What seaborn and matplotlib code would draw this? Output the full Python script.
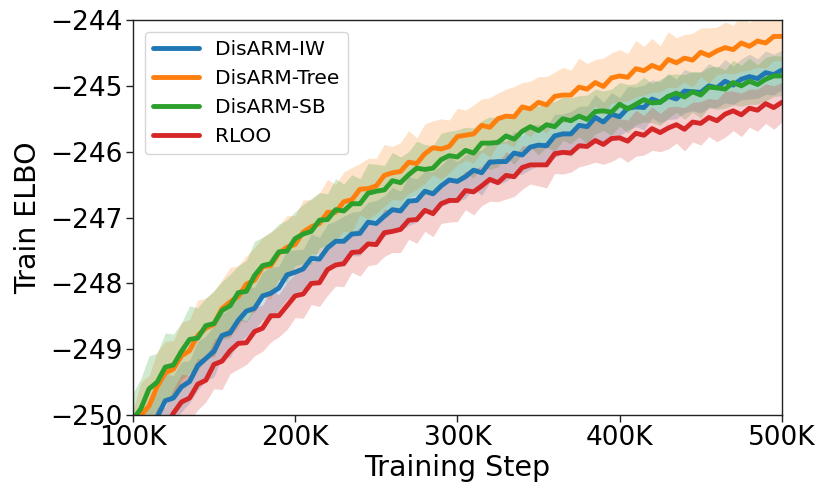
import numpy as np
import pandas as pd
import matplotlib
matplotlib.use("Agg")
import matplotlib.pyplot as plt
import seaborn as sns

steps = np.arange(100_000, 500_001, 5_000)

disarm_iw = [
    -250.56, -250.41, -250.15, -250.03, -249.78, -249.74, -249.57, -249.49, -249.25, -249.14,
    -249.03, -248.79, -248.75, -248.56, -248.42, -248.38, -248.19, -248.15, -248.07, -247.87,
    -247.83, -247.78, -247.62, -247.63, -247.46, -247.36, -247.36, -247.25, -247.24, -247.07,
    -247.09, -246.98, -246.88, -246.90, -246.75, -246.74, -246.60, -246.64, -246.52, -246.43,
    -246.45, -246.38, -246.28, -246.32, -246.16, -246.15, -246.15, -246.02, -246.05, -245.93,
    -245.90, -245.91, -245.76, -245.73, -245.73, -245.60, -245.62, -245.48, -245.55, -245.43,
    -245.47, -245.34, -245.32, -245.33, -245.20, -245.25, -245.16, -245.20, -245.08, -245.09,
    -245.10, -245.00, -245.03, -244.93, -244.99, -244.90, -244.86, -244.89, -244.80, -244.83,
    -244.76]
disarm_tree = [
    -250.37, -250.00, -249.86, -249.57, -249.36, -249.30, -249.10, -249.02, -248.79, -248.68,
    -248.62, -248.38, -248.28, -248.20, -248.01, -247.95, -247.75, -247.73, -247.54, -247.45,
    -247.41, -247.22, -247.14, -247.09, -246.92, -246.92, -246.76, -246.73, -246.57, -246.56,
    -246.52, -246.36, -246.32, -246.30, -246.16, -246.18, -246.03, -245.94, -245.96, -245.92,
    -245.77, -245.75, -245.73, -245.60, -245.63, -245.50, -245.46, -245.47, -245.32, -245.35,
    -245.25, -245.29, -245.16, -245.14, -245.14, -245.02, -245.05, -244.95, -245.01, -244.88,
    -244.85, -244.87, -244.74, -244.77, -244.69, -244.74, -244.60, -244.65, -244.58, -244.61,
    -244.49, -244.54, -244.47, -244.42, -244.45, -244.35, -244.40, -244.32, -244.35, -244.25,
    -244.25]
disarm_sb = [
    -250.07, -249.90, -249.60, -249.50, -249.27, -249.24, -249.03, -248.85, -248.83, -248.64,
    -248.61, -248.41, -248.34, -248.14, -248.12, -247.88, -247.73, -247.70, -247.52, -247.51,
    -247.32, -247.25, -247.21, -247.04, -247.03, -246.88, -246.90, -246.79, -246.79, -246.63,
    -246.60, -246.58, -246.44, -246.47, -246.35, -246.25, -246.27, -246.25, -246.12, -246.06,
    -246.08, -245.98, -246.02, -245.87, -245.87, -245.86, -245.76, -245.81, -245.69, -245.62,
    -245.68, -245.59, -245.62, -245.50, -245.53, -245.46, -245.51, -245.39, -245.38, -245.40,
    -245.28, -245.35, -245.28, -245.21, -245.26, -245.25, -245.16, -245.11, -245.17, -245.09,
    -245.14, -245.02, -245.03, -245.05, -244.95, -245.00, -244.93, -244.98, -244.90, -244.85,
    -244.85]
rloo = [
    -250.93, -250.65, -250.52, -250.28, -250.21, -249.97, -249.80, -249.74, -249.53, -249.47,
    -249.23, -249.18, -249.02, -248.91, -248.90, -248.73, -248.68, -248.49, -248.49, -248.34,
    -248.19, -248.16, -248.00, -247.99, -247.79, -247.72, -247.70, -247.53, -247.52, -247.40,
    -247.41, -247.23, -247.21, -247.18, -247.04, -247.03, -246.89, -246.94, -246.79, -246.74,
    -246.74, -246.59, -246.61, -246.52, -246.42, -246.47, -246.36, -246.38, -246.24, -246.20,
    -246.20, -246.20, -246.03, -246.01, -246.02, -245.91, -245.92, -245.83, -245.89, -245.80,
    -245.79, -245.84, -245.72, -245.75, -245.65, -245.71, -245.64, -245.59, -245.66, -245.55,
    -245.57, -245.48, -245.53, -245.43, -245.38, -245.44, -245.34, -245.37, -245.27, -245.33,
    -245.25]

spread_iw = [
    0.34, 0.38, 0.33, 0.37, 0.41, 0.34, 0.38, 0.32, 0.37, 0.34,
    0.39, 0.33, 0.37, 0.34, 0.38, 0.32, 0.36, 0.40, 0.33, 0.37,
    0.34, 0.30, 0.37, 0.33, 0.36, 0.31, 0.38, 0.33, 0.34, 0.30,
    0.35, 0.31, 0.34, 0.30, 0.37, 0.33, 0.30, 0.34, 0.31, 0.35,
    0.30, 0.33, 0.29, 0.34, 0.31, 0.35, 0.30, 0.33, 0.29, 0.34,
    0.31, 0.29, 0.33, 0.30, 0.34, 0.29, 0.31, 0.35, 0.30, 0.33,
    0.29, 0.33, 0.30, 0.34, 0.29, 0.31, 0.35, 0.30, 0.33, 0.29,
    0.31, 0.34, 0.30, 0.33, 0.29, 0.31, 0.34, 0.30, 0.33, 0.31,
    0.30]
spread_tree = [
    0.44, 0.50, 0.46, 0.53, 0.48, 0.43, 0.51, 0.47, 0.54, 0.45,
    0.50, 0.44, 0.52, 0.47, 0.43, 0.49, 0.45, 0.51, 0.41, 0.48,
    0.44, 0.49, 0.41, 0.46, 0.50, 0.42, 0.45, 0.49, 0.39, 0.46,
    0.42, 0.47, 0.40, 0.44, 0.48, 0.39, 0.45, 0.41, 0.46, 0.40,
    0.43, 0.38, 0.44, 0.40, 0.45, 0.39, 0.41, 0.46, 0.37, 0.42,
    0.39, 0.43, 0.37, 0.42, 0.38, 0.44, 0.39, 0.35, 0.43, 0.38,
    0.40, 0.36, 0.43, 0.37, 0.41, 0.35, 0.42, 0.38, 0.36, 0.41,
    0.37, 0.42, 0.36, 0.39, 0.37, 0.43, 0.36, 0.40, 0.38, 0.37,
    0.37]
spread_sb = [
    0.40, 0.46, 0.50, 0.44, 0.52, 0.47, 0.43, 0.51, 0.46, 0.42,
    0.50, 0.44, 0.48, 0.41, 0.47, 0.52, 0.43, 0.48, 0.42, 0.47,
    0.41, 0.45, 0.50, 0.42, 0.39, 0.47, 0.41, 0.44, 0.38, 0.45,
    0.41, 0.37, 0.43, 0.39, 0.35, 0.41, 0.38, 0.34, 0.40, 0.37,
    0.41, 0.35, 0.38, 0.34, 0.40, 0.37, 0.33, 0.38, 0.35, 0.31,
    0.37, 0.34, 0.38, 0.33, 0.35, 0.31, 0.37, 0.34, 0.30, 0.35,
    0.33, 0.37, 0.31, 0.34, 0.30, 0.35, 0.33, 0.29, 0.34, 0.31,
    0.35, 0.30, 0.33, 0.29, 0.34, 0.31, 0.35, 0.30, 0.33, 0.31,
    0.30]
spread_rloo = [
    0.36, 0.40, 0.35, 0.39, 0.33, 0.37, 0.42, 0.35, 0.39, 0.33,
    0.37, 0.43, 0.35, 0.39, 0.33, 0.37, 0.35, 0.40, 0.32, 0.36,
    0.33, 0.37, 0.32, 0.36, 0.39, 0.32, 0.35, 0.30, 0.37, 0.33,
    0.30, 0.36, 0.32, 0.35, 0.29, 0.36, 0.32, 0.35, 0.30, 0.33,
    0.32, 0.29, 0.35, 0.30, 0.33, 0.29, 0.36, 0.30, 0.33, 0.29,
    0.32, 0.35, 0.30, 0.33, 0.29, 0.32, 0.28, 0.33, 0.30, 0.35,
    0.29, 0.32, 0.35, 0.30, 0.33, 0.29, 0.32, 0.28, 0.33, 0.30,
    0.33, 0.29, 0.32, 0.35, 0.30, 0.33, 0.29, 0.32, 0.30, 0.33,
    0.30]

methods = ["DisARM-IW", "DisARM-Tree", "DisARM-SB", "RLOO"]
means = [disarm_iw, disarm_tree, disarm_sb, rloo]
spreads = [spread_iw, spread_tree, spread_sb, spread_rloo]
colors = ["#1f77b4", "#ff7f0e", "#2ca02c", "#d62728"]

xticks = [100_000, 200_000, 300_000, 400_000, 500_000]
xticklabels = ["100K", "200K", "300K", "400K", "500K"]
yticks = [-250, -249, -248, -247, -246, -245, -244]

frames = []
for m, v, s in zip(methods, means, spreads):
    frames.append(pd.DataFrame({"step": steps, "elbo": v, "spread": s, "method": m}))
df = pd.concat(frames, ignore_index=True)

sns.set_theme(style="ticks")
plt.rcParams["font.family"] = ["DejaVu Sans"]
plt.rcParams["text.color"] = "black"
plt.rcParams["axes.labelcolor"] = "black"
plt.rcParams["xtick.color"] = "black"
plt.rcParams["ytick.color"] = "black"

fig = plt.figure(figsize=(8.30, 4.99), dpi=100)
ax = fig.add_axes([0.160, 0.168, 0.782, 0.792])

for m, c in zip(methods, colors):
    d = df[df["method"] == m]
    ax.fill_between(d["step"], d["elbo"] - d["spread"], d["elbo"] + d["spread"],
                    color=c, alpha=0.22, linewidth=0)

sns.lineplot(data=df, x="step", y="elbo", hue="method", hue_order=methods,
             palette=colors, linewidth=3.5, ax=ax, errorbar=None)

ax.set_xlim(100_000, 500_000)
ax.set_ylim(-250, -244)
ax.set_xticks(xticks)
ax.set_xticklabels(xticklabels)
ax.set_yticks(yticks)
ax.set_yticklabels([f"\u2212{abs(t)}" for t in yticks])
ax.tick_params(axis="both", labelsize=19, length=5, width=1, color="#222222", pad=2)
for sp in ax.spines.values():
    sp.set_visible(True)
    sp.set_color("#222222")
    sp.set_linewidth(1.0)

ax.set_xlabel("Training Step", fontsize=20.5, labelpad=2)
ax.set_ylabel("Train ELBO", fontsize=20.5, labelpad=6)

leg = ax.legend(loc="upper left", fontsize=14.5, frameon=True, handlelength=2.3,
                borderaxespad=0.6)
for h in leg.get_lines():
    h.set_linewidth(3.5)

fig.savefig("out.png", dpi=100)
